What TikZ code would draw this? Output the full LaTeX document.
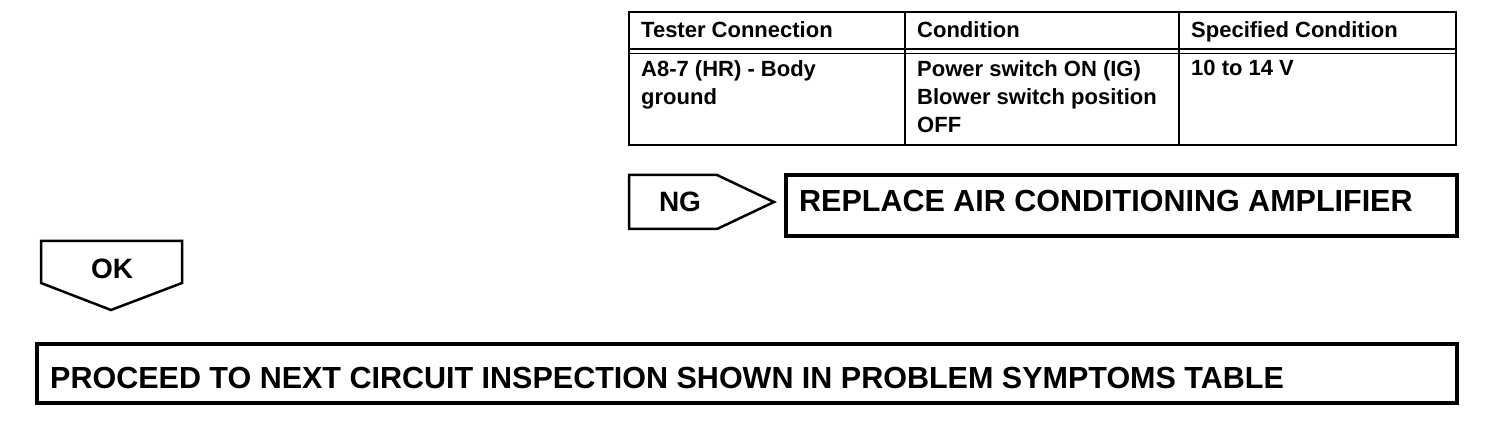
\documentclass[tikz,border=0pt]{standalone}
\usepackage{fontspec}
\setmainfont{Liberation Sans}
\begin{document}
\begin{tikzpicture}[x=1pt,y=-1pt,
  frame/.style={draw=black,line width=3.5pt,line join=miter},
  thin/.style={draw=black,line width=2.2pt},
  cell/.style={anchor=base west,inner sep=0pt,font=\fontsize{22}{28}\selectfont\bfseries,align=left},
  big/.style={anchor=base west,inner sep=0pt,font=\fontsize{30.5}{36}\selectfont\bfseries},
  tag/.style={anchor=base,inner sep=0pt,font=\fontsize{28}{34}\selectfont\bfseries},
  arrowbox/.style={draw=black,line width=2.5pt,line join=miter}]
\useasboundingbox (0,0) rectangle (1504,430);
% table
\draw[thin] (629,12) rectangle (1456,145);
\draw[thin] (905,12) -- (905,145);
\draw[thin] (1179,12) -- (1179,145);
\draw[line width=1.8pt] (629,49) -- (1456,49);
\draw[line width=1.8pt] (629,53.5) -- (1456,53.5);
\node[cell] (h1) at (641,38) {Tester Connection};
\node[cell] (h2) at (917,38) {Condition};
\node[cell] (h3) at (1191,38) {Specified Condition};
\node[cell,anchor=north west] (c1) at (641,60) {A8-7 (HR) - Body\\ground};
\node[cell,anchor=north west] (c2) at (917,60) {Power switch ON (IG)\\Blower switch position\\OFF};
\node[cell,anchor=north west] (c3) at (1191,60) {10 to 14 V};
% NG arrow
\draw[arrowbox] (629,175) -- (717,175) -- (774,202) -- (717,229) -- (629,229) -- cycle;
\node[tag] (ng) at (680,211.7) {NG};
% replace box
\draw[frame] (786,175) rectangle (1457,236);
\node[big] (rep) at (799,212) {REPLACE AIR CONDITIONING AMPLIFIER};
% OK arrow
\draw[arrowbox] (41,241) -- (182,241) -- (182,283) -- (111,310) -- (41,283) -- cycle;
\node[tag] (ok) at (112,278.3) {OK};
% proceed box
\draw[frame] (37,344) rectangle (1457,403);
\node[big] (pro) at (50,388.3) {PROCEED TO NEXT CIRCUIT INSPECTION SHOWN IN PROBLEM SYMPTOMS TABLE};
\end{tikzpicture}
\end{document}
